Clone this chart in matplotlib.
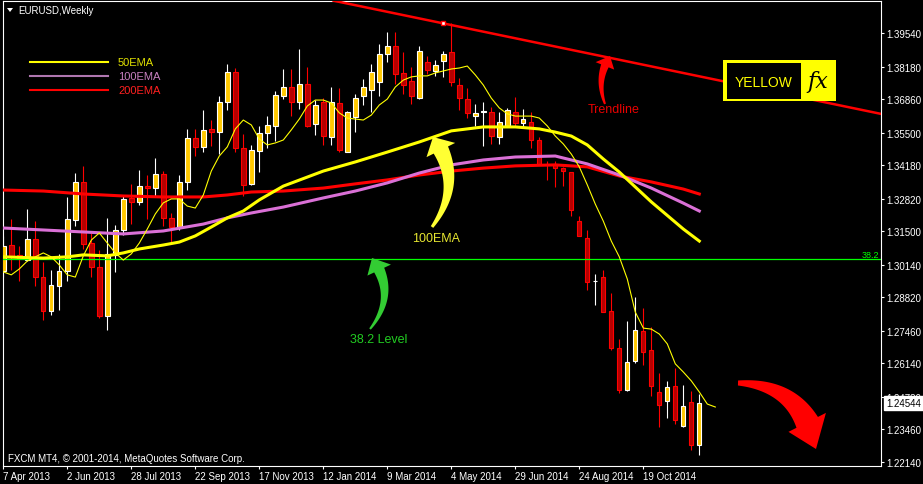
import numpy as np
import matplotlib
matplotlib.use("Agg")
import matplotlib.pyplot as plt
from matplotlib.patches import Polygon, Rectangle
from matplotlib.lines import Line2D
from matplotlib.transforms import IdentityTransform

plt.rcParams['font.family'] = ['Liberation Sans', 'DejaVu Sans']

W, H = 923, 485

# weekly EURUSD candles, 7 Apr 2013 .. 7 Dec 2014
opens = [
    1.2989, 1.3094, 1.3054, 1.3033, 1.3119, 1.2964, 1.2826, 1.2928, 1.2989, 1.3196,
    1.3350, 1.3102, 1.3005, 1.2806, 1.3054, 1.3155, 1.3285, 1.3269, 1.3333, 1.3325,
    1.3382, 1.3204, 1.3167, 1.3350, 1.3528, 1.3492, 1.3565, 1.3552, 1.3674, 1.3796,
    1.3488, 1.3342, 1.3475, 1.3548, 1.3577, 1.3699, 1.3735, 1.3674, 1.3747, 1.3585,
    1.3674, 1.3532, 1.3670, 1.3471, 1.3613, 1.3699, 1.3723, 1.3755, 1.3869, 1.3901,
    1.3792, 1.3759, 1.3690, 1.3836, 1.3800, 1.3840, 1.3877, 1.3743, 1.3686, 1.3617,
    1.3634, 1.3634, 1.3532, 1.3577, 1.3634, 1.3589, 1.3593, 1.3520, 1.3423, 1.3423,
    1.3406, 1.3390, 1.3191, 1.3123, 1.2948, 1.2964, 1.2826, 1.2676, 1.2506, 1.2624,
    1.2745, 1.2668, 1.2498, 1.2461, 1.2522, 1.2360, 1.2457, 1.2283]
highs = [
    1.3131, 1.3200, 1.3090, 1.3240, 1.3191, 1.3025, 1.2993, 1.3058, 1.3289, 1.3386,
    1.3415, 1.3143, 1.3074, 1.3204, 1.3175, 1.3293, 1.3342, 1.3398, 1.3378, 1.3447,
    1.3394, 1.3224, 1.3378, 1.3565, 1.3565, 1.3642, 1.3601, 1.3699, 1.3828, 1.3812,
    1.3544, 1.3500, 1.3577, 1.3617, 1.3719, 1.3808, 1.3808, 1.3889, 1.3816, 1.3682,
    1.3690, 1.3735, 1.3731, 1.3638, 1.3707, 1.3767, 1.3828, 1.3909, 1.3958, 1.3958,
    1.3877, 1.3816, 1.3901, 1.3861, 1.3844, 1.3881, 1.3995, 1.3772, 1.3731, 1.3666,
    1.3674, 1.3654, 1.3634, 1.3650, 1.3694, 1.3646, 1.3634, 1.3532, 1.3435, 1.3435,
    1.3411, 1.3390, 1.3212, 1.3155, 1.2977, 1.2993, 1.2900, 1.2713, 1.2786, 1.2883,
    1.2839, 1.2762, 1.2575, 1.2543, 1.2595, 1.2526, 1.2502, 1.2490]
lows = [
    1.2964, 1.2993, 1.2948, 1.3029, 1.2928, 1.2790, 1.2810, 1.2830, 1.2948, 1.3171,
    1.3078, 1.2964, 1.2798, 1.2749, 1.2985, 1.3135, 1.3179, 1.3256, 1.3200, 1.3293,
    1.3171, 1.3098, 1.3155, 1.3317, 1.3455, 1.3471, 1.3496, 1.3463, 1.3642, 1.3471,
    1.3293, 1.3338, 1.3390, 1.3488, 1.3516, 1.3686, 1.3617, 1.3646, 1.3573, 1.3540,
    1.3500, 1.3500, 1.3471, 1.3471, 1.3552, 1.3662, 1.3634, 1.3699, 1.3836, 1.3747,
    1.3707, 1.3666, 1.3686, 1.3788, 1.3780, 1.3776, 1.3739, 1.3642, 1.3609, 1.3577,
    1.3496, 1.3504, 1.3504, 1.3577, 1.3577, 1.3573, 1.3488, 1.3423, 1.3358, 1.3329,
    1.3333, 1.3212, 1.3131, 1.2912, 1.2851, 1.2822, 1.2668, 1.2494, 1.2502, 1.2616,
    1.2607, 1.2482, 1.2356, 1.2392, 1.2368, 1.2356, 1.2263, 1.2242]
closes = [
    1.3090, 1.3050, 1.3037, 1.3119, 1.2964, 1.2826, 1.2932, 1.2989, 1.3200, 1.3350,
    1.3098, 1.3005, 1.2806, 1.3058, 1.3155, 1.3281, 1.3269, 1.3333, 1.3325, 1.3382,
    1.3204, 1.3167, 1.3350, 1.3528, 1.3492, 1.3561, 1.3552, 1.3674, 1.3796, 1.3488,
    1.3338, 1.3479, 1.3548, 1.3581, 1.3703, 1.3735, 1.3674, 1.3747, 1.3577, 1.3662,
    1.3536, 1.3674, 1.3479, 1.3634, 1.3690, 1.3735, 1.3796, 1.3869, 1.3901, 1.3788,
    1.3743, 1.3699, 1.3881, 1.3804, 1.3824, 1.3869, 1.3755, 1.3690, 1.3630, 1.3630,
    1.3638, 1.3536, 1.3593, 1.3642, 1.3589, 1.3605, 1.3520, 1.3423, 1.3419, 1.3406,
    1.3394, 1.3236, 1.3131, 1.2944, 1.2948, 1.2822, 1.2676, 1.2506, 1.2620, 1.2749,
    1.2660, 1.2522, 1.2445, 1.2518, 1.2384, 1.2441, 1.2283, 1.24544]

# thin fast average (shifted, runs two bars past the last candle)
fast_ma = [
    1.2985, 1.2973, 1.2997, 1.3029, 1.3046, 1.3062, 1.3046, 1.3013, 1.2973, 1.2964,
    1.3050, 1.3114, 1.3143, 1.3102, 1.3062, 1.3033, 1.3058, 1.3102, 1.3159, 1.3220,
    1.3265, 1.3281, 1.3281, 1.3252, 1.3244, 1.3297, 1.3394, 1.3455, 1.3492, 1.3565,
    1.3601, 1.3581, 1.3524, 1.3500, 1.3508, 1.3520, 1.3561, 1.3605, 1.3658, 1.3682,
    1.3682, 1.3670, 1.3630, 1.3609, 1.3605, 1.3601, 1.3621, 1.3662, 1.3686, 1.3735,
    1.3763, 1.3776, 1.3780, 1.3780, 1.3792, 1.3800, 1.3808, 1.3812, 1.3820, 1.3784,
    1.3743, 1.3690, 1.3650, 1.3626, 1.3617, 1.3617, 1.3617, 1.3609, 1.3577, 1.3536,
    1.3504, 1.3463, 1.3411, 1.3338, 1.3260, 1.3191, 1.3110, 1.3046, 1.2956, 1.2822,
    1.2757, 1.2753, 1.2733, 1.2693, 1.2612, 1.2579, 1.2543, 1.2498, 1.2449, 1.2437]

ema_idx = [0, 5, 10, 15, 20, 25, 28, 31, 35, 40, 44, 48, 52, 56, 60, 64, 69, 73, 77, 81, 85, 87]
ema200 = [1.3317, 1.3313, 1.3301, 1.3293, 1.3289, 1.3289, 1.3297, 1.3309, 1.3313, 1.3325, 1.3342,
          1.3358, 1.3378, 1.3394, 1.3406, 1.3415, 1.3419, 1.3411, 1.3374, 1.3350, 1.3321, 1.3301]
ema100 = [1.3163, 1.3155, 1.3147, 1.3139, 1.3151, 1.3179, 1.3204, 1.3224, 1.3248, 1.3285, 1.3313,
          1.3346, 1.3386, 1.3419, 1.3439, 1.3451, 1.3455, 1.3423, 1.3378, 1.3325, 1.3264, 1.3232]
ema50_idx = [0, 5, 8, 10, 13, 15, 17, 20, 22, 24, 26, 28, 30, 32, 35, 40, 44, 48, 52, 56, 60, 64,
             67, 69, 71, 73, 75, 77, 81, 85, 87]
ema50 = [1.3046, 1.3041, 1.3046, 1.3054, 1.3050, 1.3062, 1.3078, 1.3094, 1.3106, 1.3131, 1.3167,
         1.3204, 1.3232, 1.3277, 1.3333, 1.3394, 1.3431, 1.3471, 1.3512, 1.3557, 1.3573, 1.3573,
         1.3565, 1.3552, 1.3536, 1.3500, 1.3443, 1.3390, 1.3269, 1.3159, 1.3110]

date_idx = [0, 8, 16, 24, 32, 40, 48, 56, 64, 72, 80]
date_labels = ['7 Apr 2013', '2 Jun 2013', '28 Jul 2013', '22 Sep 2013', '17 Nov 2013',
               '12 Jan 2014', '9 Mar 2014', '4 May 2014', '29 Jun 2014', '24 Aug 2014',
               '19 Oct 2014']
price_ticks = [1.22140, 1.23460, 1.24780, 1.26140, 1.27460, 1.28820, 1.30140,
               1.31500, 1.32820, 1.34180, 1.35500, 1.36860, 1.38180, 1.39540]
fib_level = 1.3037
trend_a = (55, 1.3993)
trend_b = (110, 1.3624)


def fxy(px, py):
    # image pixel (from top-left) -> figure fraction
    return px / W, 1 - py / H


def fat_arrow(fig, tail, tip, rad, w0, w1, head_w, head_l, color):
    a = np.array([tail[0], H - tail[1]], float)
    b = np.array([tip[0], H - tip[1]], float)
    d = b - a
    ctrl = (a + b) / 2 + rad * np.array([d[1], -d[0]])
    t = np.linspace(0, 1, 300)[:, None]
    curve = (1 - t) ** 2 * a + 2 * (1 - t) * t * ctrl + t ** 2 * b
    dist = np.hypot(*(curve - b).T)
    body = curve[dist >= head_l]
    tang = np.gradient(body, axis=0)
    tang /= np.hypot(*tang.T)[:, None]
    nrm = np.column_stack([-tang[:, 1], tang[:, 0]])
    half = np.linspace(w0, w1, len(body))[:, None] / 2
    base, nb = body[-1], nrm[-1]
    pts = np.vstack([body + nrm * half, [base + nb * head_w / 2], [b],
                     [base - nb * head_w / 2], (body - nrm * half)[::-1]])
    fig.add_artist(Polygon(pts, closed=True, transform=IdentityTransform(),
                           fc=color, ec='none', zorder=5))


fig = plt.figure(figsize=(W / 100, H / 100), dpi=100, facecolor='black')
ax = fig.add_axes([2.7 / W, 17.7 / H, 878 / W, 465.6 / H], facecolor='black')
ax.set_xlim(-0.075, 109.675)
ax.set_ylim(1.21965, 1.4085)

o, h, l, c = map(np.array, (opens, highs, lows, closes))
x = np.arange(len(c))
up = c >= o
ax.vlines(x[up], l[up], h[up], color='white', lw=0.8, zorder=2)
ax.vlines(x[~up], l[~up], h[~up], color='#ff0000', lw=0.8, zorder=2)
ax.bar(x[up], (c - o)[up], bottom=o[up], width=0.55, color='#ffc800',
       edgecolor='white', lw=0.8, zorder=3)
ax.bar(x[~up], (c - o)[~up], bottom=o[~up], width=0.55, color='#b40000',
       edgecolor='#ff0000', lw=0.8, zorder=3)

ax.axhline(fib_level, color='#00ff00', lw=0.9, zorder=4)
ax.plot(ema_idx, ema200, color='#ff0000', lw=2.2, zorder=4)
ax.plot(ema_idx, ema100, color='#da70d6', lw=2.2, zorder=4)
ax.plot(ema50_idx, ema50, color='#ffff00', lw=2.2, zorder=4)
ax.plot(np.arange(len(fast_ma)), fast_ma, color='#ffff00', lw=0.8, zorder=5)
ax.axline(trend_a, trend_b, color='#ff0000', lw=1.8, zorder=4)
ax.plot(*trend_a, marker='s', ms=3.5, mfc='white', mec='#ff0000', mew=1, zorder=6)
ax.text(0.998, fib_level, '38.2', transform=ax.get_yaxis_transform(), ha='right',
        va='bottom', color='#00ff00', fontsize=6.5)

for s in ax.spines.values():
    s.set_color('white')
    s.set_linewidth(0.8)
ax.yaxis.tick_right()
ax.tick_params(axis='y', left=False, right=True, direction='out', length=2.2, width=0.8,
               pad=1.7, colors='white', labelsize=7)
ax.tick_params(axis='x', direction='out', length=2.2, width=0.8, pad=1,
               colors='white', labelsize=7)
ax.set_yticks(price_ticks, [f'{v:.5f}' for v in price_ticks])
ax.set_xticks(date_idx, date_labels)
for t in ax.get_xticklabels():
    t.set_ha('left')

ax.annotate(f'{closes[-1]:.5f}', xy=(1.0, closes[-1]), xycoords=ax.get_yaxis_transform(),
            xytext=(4, 0), textcoords='offset points', ha='left', va='center',
            color='black', fontsize=7, annotation_clip=False, zorder=10,
            bbox=dict(boxstyle='square,pad=0.2', fc='white', ec='white'))

# header, footer
fig.add_artist(Polygon([(7, H - 9), (13, H - 9), (10, H - 13)], transform=IdentityTransform(),
                       fc='white', ec='none'))
fig.text(*fxy(18, 11), 'EURUSD,Weekly', color='white', fontsize=7, va='center')
fig.text(*fxy(8, 459), 'FXCM MT4, \u00a9 2001-2014, MetaQuotes Software Corp.',
         color='white', fontsize=7, va='center')

# legend
legend_items = [('50EMA', '#ffff00', '#e0e000'), ('100EMA', '#b077b0', '#c880c0'),
                ('200EMA', '#ff0000', '#ff2020')]
for k, (name, lc, tc) in enumerate(legend_items):
    yy = H - (63 + 14.2 * k)
    fig.add_artist(Line2D([30, 108], [yy, yy], transform=IdentityTransform(), color=lc, lw=1.5))
    fig.text(118 / W, yy / H, name, color=tc, fontsize=8, va='center')

# annotations
fat_arrow(fig, (432, 228), (433, 138), 0.36, 3, 16, 32, 15, '#ffff33')
fat_arrow(fig, (370, 330), (372, 259), 0.38, 2, 11, 26, 14, '#33cc33')
fat_arrow(fig, (605, 105), (610, 57), -0.25, 2, 8, 20, 11, '#ff0000')
fat_arrow(fig, (738, 384), (816, 450), -0.4, 5, 24, 42, 28, '#ff0000')
fig.text(*fxy(614, 110.5), 'Trendline', color='#e80000', fontsize=9, ha='center', va='center')
fig.text(*fxy(436, 238.5), '100EMA', color='#e6e630', fontsize=9, ha='center', va='center')
fig.text(*fxy(379, 340), '38.2 Level', color='#22cc22', fontsize=9, ha='center', va='center')

# logo
fig.add_artist(Rectangle((723, H - 102), 113, 41, transform=IdentityTransform(),
                         fc='#ffff00', ec='none', zorder=6))
fig.add_artist(Rectangle((727, H - 100), 74, 36, transform=IdentityTransform(),
                         fc='black', ec='none', zorder=7))
fig.text(*fxy(764, 83), 'YELLOW', color='#ffff00', fontsize=10, ha='center', va='center', zorder=8)
fig.text(*fxy(818, 82), 'fx', color='black', fontsize=16, family='DejaVu Serif', style='italic',
         ha='center', va='center', zorder=8)

fig.savefig('out.png', dpi=100, facecolor='black')
